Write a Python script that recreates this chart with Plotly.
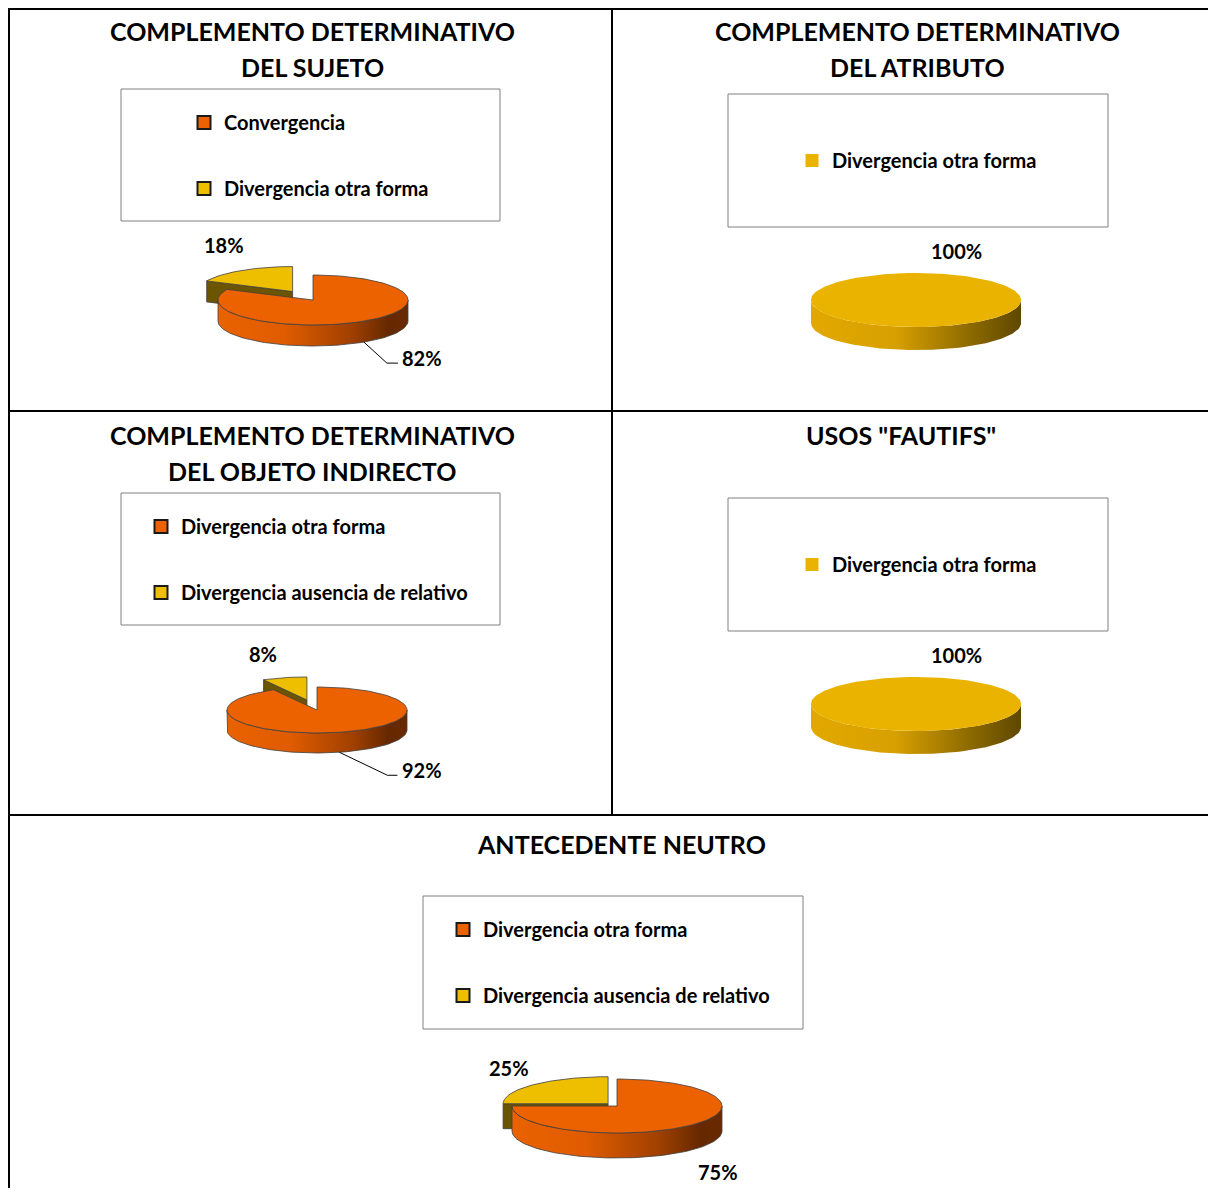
import math
import plotly.graph_objects as go

# ---------------- data ----------------
titles = [
    ["COMPLEMENTO DETERMINATIVO", "DEL SUJETO"],
    ["COMPLEMENTO DETERMINATIVO", "DEL ATRIBUTO"],
    ["COMPLEMENTO DETERMINATIVO", "DEL OBJETO INDIRECTO"],
    ['USOS "FAUTIFS"'],
    ["ANTECEDENTE NEUTRO"],
]
categories = [
    ["Convergencia", "Divergencia otra forma"],
    ["Divergencia otra forma"],
    ["Divergencia otra forma", "Divergencia ausencia de relativo"],
    ["Divergencia otra forma"],
    ["Divergencia otra forma", "Divergencia ausencia de relativo"],
]
values = [
    [82, 18],
    [100],
    [92, 8],
    [100],
    [75, 25],
]

# ---------------- styles ----------------
ORANGE = dict(top="#EC6100", cut="#7A3300",
              wall=[[0, "#EA6200"], [0.35, "#E05C00"], [0.7, "#A04000"], [0.9, "#652800"], [1, "#6A2A00"]])
YELLOW = dict(top="#EEBE00", cut="#6B5500",
              wall=[[0, "#E2AA00"], [0.4, "#D9A300"], [0.75, "#8E6B00"], [1, "#5E4700"]])
YELLOW2 = dict(top="#EAB300", cut="#6B5500",
               wall=[[0, "#E2A800"], [0.4, "#D8A000"], [0.75, "#8E6B00"], [1, "#5E4700"]])
slice_styles = [[ORANGE, YELLOW], [YELLOW2], [ORANGE, YELLOW], [YELLOW2], [ORANGE, YELLOW]]

cfgs = [
    dict(tx=312, ty=[31, 67], box=(121, 89, 500, 221), lx=208, ly=122,
         cx=313, cy=300, rx=95, ry=25, dep=21, explode=[0, 0.4], outline=True,
         loff=[(58, 37), (-18, -25)], leader=[[(23, 21), (34, 21)], None]),
    dict(tx=917, ty=[31, 67], box=(728, 94, 1108, 227), lx=816, ly=160,
         cx=916, cy=300, rx=105, ry=27, dep=23, explode=[0], outline=False,
         loff=[(40, -76)], leader=[None]),
    dict(tx=312, ty=[435, 471], box=(121, 493, 500, 625), lx=165, ly=526,
         cx=317, cy=710, rx=90, ry=23, dep=20, explode=[0, 0.45], outline=True,
         loff=[(83, 38), (-22, -24)], leader=[[(48, 23), (58, 23)], None]),
    dict(tx=901, ty=[435], box=(728, 498, 1108, 631), lx=816, ly=564,
         cx=916, cy=704, rx=105, ry=27, dep=23, explode=[0], outline=False,
         loff=[(40, -76)], leader=[None]),
    dict(tx=621, ty=[844], box=(423, 896, 803, 1029), lx=467, ly=929,
         cx=617, cy=1106, rx=105, ry=27, dep=25, explode=[0, 0.12], outline=True,
         loff=[(27, 47), (-25, -17)], leader=[None, None]),
]

FONT = "Lato"
W, H = 1200, 1180   # figure; page offset 8px (body margin)
X0, Y0 = 8, 8

fig = go.Figure()
shapes = []
annotations = []
legends = {}


def arc(a, b, n=160):
    k = max(3, int(n * (b - a) / (2 * math.pi)) + 3)
    return [a + (b - a) * i / (k - 1) for i in range(k)]


for ci in range(len(values)):
    cfg = cfgs[ci]
    vals = values[ci]
    cats = categories[ci]
    sty = slice_styles[ci]
    total = float(sum(vals))
    cx, cy, rx, ry, dep = cfg["cx"], cfg["cy"], cfg["rx"], cfg["ry"], cfg["dep"]
    line = dict(color="#404040", width=0.8) if cfg["outline"] else dict(width=0, color="rgba(0,0,0,0)")

    angles = []
    start = 0.0
    for v in vals:
        b = start + 2 * math.pi * v / total
        angles.append((start, b))
        start = b

    order = sorted(range(len(vals)), key=lambda i: -cfg["explode"][i])
    for i in order:
        a, b = angles[i]
        mid = (a + b) / 2
        e = cfg["explode"][i]
        ox = cx + e * rx * math.sin(mid)
        oy = cy - e * ry * math.cos(mid)

        def P(t, down=0.0):
            return (ox + rx * math.sin(t), oy - ry * math.cos(t) + down)

        full = (b - a) >= 2 * math.pi - 1e-9
        st = sty[i]
        # radial cut faces
        if not full:
            for t, vis in ((a, math.sin(a) < -1e-6), (b, math.sin(b) > 1e-6)):
                if vis:
                    x1, y1 = P(t)
                    fig.add_trace(go.Scatter(
                        x=[ox, x1, x1, ox, ox], y=[oy, y1, y1 + dep, oy + dep, oy],
                        fill="toself", fillcolor=st["cut"], mode="lines", line=line,
                        hoverinfo="skip", showlegend=False))
        # outer wall (front half)
        s, t_e = max(a, math.pi / 2), min(b, 3 * math.pi / 2)
        if t_e > s:
            ts = arc(s, t_e)
            pts = [P(t) for t in ts] + [P(t, dep) for t in reversed(ts)]
            pts.append(pts[0])
            fig.add_trace(go.Scatter(
                x=[p[0] for p in pts], y=[p[1] for p in pts], fill="toself",
                fillgradient=dict(type="horizontal", colorscale=st["wall"]),
                mode="lines", line=line, hoverinfo="skip", showlegend=False))
        # top face
        ts = arc(a, b)
        pts = [P(t) for t in ts]
        if not full:
            pts = [(ox, oy)] + pts + [(ox, oy)]
        fig.add_trace(go.Scatter(
            x=[p[0] for p in pts], y=[p[1] for p in pts], fill="toself",
            fillcolor=st["top"], mode="lines", line=line,
            name=cats[i], text=[f"{cats[i]}: {vals[i] / total:.0%}"] * len(pts),
            hoverinfo="text", showlegend=False))

        # percentage label
        ax, ay = ox + rx * math.sin(mid), oy - ry * math.cos(mid)
        dx, dy = cfg["loff"][i]
        annotations.append(dict(
            x=ax + dx, y=ay + dy, xref="x", yref="y", showarrow=False,
            text=f"{round(100 * vals[i] / total)}%",
            font=dict(family=FONT, size=20, color="black", weight="bold"),
            xanchor="center", yanchor="middle"))
        ld = cfg["leader"][i]
        if ld:
            bx, by = ax, ay + dep
            path = f"M{bx},{by} L{bx + ld[0][0]},{by + ld[0][1]} L{bx + ld[1][0]},{by + ld[1][1]}"
            shapes.append(dict(type="path", path=path, xref="x", yref="y",
                               line=dict(color="black", width=1)))

    # legend entries
    lg = "legend" if ci == 0 else f"legend{ci + 1}"
    for i, cat in enumerate(cats):
        st = sty[i]
        fig.add_trace(go.Scatter(
            x=[None], y=[None], mode="markers", name=cat, legend=lg,
            legendgroup=f"{lg}_{i}",
            marker=dict(symbol="square", size=13, color=st["top"],
                        line=dict(color="#1a1a1a" if cfg["outline"] else st["top"],
                                  width=2 if cfg["outline"] else 0)),
            showlegend=True, hoverinfo="skip"))
    legends[lg] = dict(
        x=(cfg["lx"] - 24 - X0) / W, y=1 - (cfg["ly"] - 19 - Y0) / H,
        xanchor="left", yanchor="top", bgcolor="rgba(0,0,0,0)", borderwidth=0,
        font=dict(family=FONT, size=20, color="black", weight="bold"),
        tracegroupgap=37, itemclick=False, itemdoubleclick=False)

    # legend box
    bx0, by0, bx1, by1 = cfg["box"]
    shapes.append(dict(type="rect", xref="x", yref="y", x0=bx0, y0=by0, x1=bx1, y1=by1,
                       line=dict(color="#808080", width=1), layer="below"))
    # titles
    for k, tline in enumerate(titles[ci]):
        annotations.append(dict(
            x=cfg["tx"], y=cfg["ty"][k], xref="x", yref="y", showarrow=False, text=tline,
            font=dict(family=FONT, size=25, color="black", weight="bold"),
            xanchor="center", yanchor="middle"))

# table grid lines
grid = [
    (8, 9, 1216, 9), (9, 8, 9, 1196), (612, 8, 612, 815),
    (8, 411, 1216, 411), (8, 815, 1216, 815),
]
for x0, y0, x1, y1 in grid:
    shapes.append(dict(type="line", xref="x", yref="y", x0=x0, y0=y0, x1=x1, y1=y1,
                       line=dict(color="black", width=2)))

fig.update_layout(
    width=W, height=H, autosize=False,
    margin=dict(l=0, r=0, t=0, b=0, pad=0),
    paper_bgcolor="white", plot_bgcolor="white",
    xaxis=dict(range=[X0, X0 + W], visible=False, fixedrange=True),
    yaxis=dict(range=[Y0 + H, Y0], visible=False, fixedrange=True),
    shapes=shapes, annotations=annotations,
    showlegend=True,
    **legends,
)
fig.write_html("out.html")
